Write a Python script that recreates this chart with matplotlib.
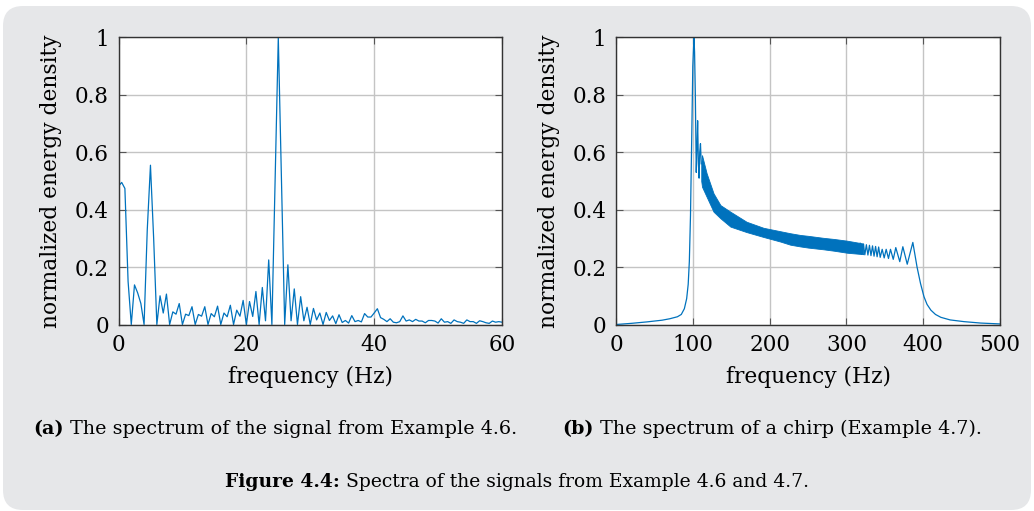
import numpy as np
import matplotlib
matplotlib.use("Agg")
import matplotlib.pyplot as plt
from matplotlib.patches import FancyBboxPatch

plt.rcParams['font.family'] = ['DejaVu Serif']

BLUE = "#0072BD"

# (a) spectrum of the signal from Example 4.6, 0.5 Hz bins from 0 to 60 Hz
freq_a = np.arange(0, 60.5, 0.5)
energy_a = [
    0.482, 0.495, 0.474, 0.15, 0.0, 0.138, 0.11, 0.073, 0.0, 0.33,
    0.555, 0.30, 0.0, 0.10, 0.04, 0.106, 0.0, 0.044, 0.036, 0.073,
    0.0, 0.036, 0.031, 0.062, 0.0, 0.035, 0.029, 0.062, 0.0, 0.038,
    0.027, 0.064, 0.0, 0.04, 0.027, 0.067, 0.0, 0.05, 0.029, 0.084,
    0.0, 0.08, 0.028, 0.115, 0.0, 0.129, 0.013, 0.225, 0.0, 0.5,
    1.0, 0.5, 0.0, 0.208, 0.013, 0.124, 0.0, 0.097, 0.013, 0.06,
    0.0, 0.056, 0.016, 0.04, 0.0, 0.042, 0.014, 0.03, 0.003, 0.034,
    0.007, 0.014, 0.005, 0.031, 0.01, 0.014, 0.009, 0.038, 0.026, 0.026,
    0.04, 0.055, 0.024, 0.018, 0.01, 0.02, 0.008, 0.006, 0.01, 0.03,
    0.012, 0.016, 0.01, 0.018, 0.012, 0.012, 0.006, 0.014, 0.014, 0.012,
    0.005, 0.02, 0.008, 0.01, 0.004, 0.016, 0.01, 0.008, 0.004, 0.016,
    0.01, 0.01, 0.004, 0.013, 0.01, 0.006, 0.004, 0.012, 0.008, 0.01,
    0.008,
]

# (b) chirp spectrum: rising edge and main peak
chirp_f_start = [0, 20, 40, 60, 70, 80, 85, 89, 92, 94, 95.5, 97, 98, 99, 100,
                 101.5, 102.3, 103.3, 104.5, 105.5, 106.3, 107.3, 108.2, 109, 110, 111]
chirp_v_start = [0, 0.004, 0.009, 0.015, 0.02, 0.027, 0.035, 0.055, 0.09, 0.14, 0.22,
                 0.38, 0.55, 0.72, 0.9, 1.0, 0.95, 0.8, 0.53, 0.62, 0.71, 0.56, 0.51,
                 0.6, 0.63, 0.56]

# dense ripple band (upper / lower envelope)
band_f = [111, 112, 118, 127, 136, 149, 170, 192, 214, 227, 240, 250, 270, 284, 301, 318, 322]
band_hi = [0.56, 0.59, 0.527, 0.457, 0.416, 0.393, 0.358, 0.337, 0.325, 0.318, 0.312,
           0.309, 0.302, 0.298, 0.292, 0.284, 0.282]
band_lo = [0.50, 0.48, 0.445, 0.393, 0.37, 0.341, 0.322, 0.305, 0.289, 0.278, 0.272,
           0.268, 0.262, 0.257, 0.25, 0.246, 0.245]

# resolved ripples and falling edge
chirp_f_end = [318, 320, 322, 324, 326, 328, 330, 332, 334, 336, 338, 340, 342, 344,
               346.6, 349.2, 351.8, 354.8, 357.4, 361, 364.3, 369.5, 373.5, 379.2, 386.5,
               392, 396.5, 401, 405, 410, 416, 423, 435, 453, 475, 500]
chirp_v_end = [0.283, 0.245, 0.28, 0.243, 0.278, 0.242, 0.276, 0.24, 0.274, 0.238, 0.272,
               0.236, 0.27, 0.234, 0.262, 0.232, 0.262, 0.23, 0.262, 0.227, 0.268, 0.219,
               0.271, 0.21, 0.286, 0.2, 0.143, 0.097, 0.07, 0.05, 0.035, 0.025, 0.016,
               0.01, 0.005, 0.002]

yticks = [0, 0.2, 0.4, 0.6, 0.8, 1]
ytick_labels = ["0", "0.2", "0.4", "0.6", "0.8", "1"]

fig = plt.figure(figsize=(10.34, 5.11), dpi=100)
fig.patch.set_facecolor("white")
bg = FancyBboxPatch((3, 1), 1028, 504, boxstyle="round,pad=0,rounding_size=20",
                    transform=None, facecolor="#e6e7e9", edgecolor="none", zorder=-10)
fig.patches.append(bg)

ax1 = fig.add_axes([118.5 / 1034, (511 - 324.5) / 511, 383.5 / 1034, 287 / 511])
ax2 = fig.add_axes([616 / 1034, (511 - 324.5) / 511, 384 / 1034, 287 / 511])


def style(ax, xticks):
    ax.set_facecolor("white")
    ax.set_xticks(xticks)
    ax.set_yticks(yticks)
    ax.set_yticklabels(ytick_labels)
    ax.set_ylim(0, 1)
    ax.grid(True, color="#c4c4c4", linewidth=1.0)
    ax.set_axisbelow(True)
    ax.tick_params(direction="in", length=5, width=0.8, color="#555555",
                   top=True, right=True, labelsize=15.5, pad=7)
    for sp in ax.spines.values():
        sp.set_color("#333333")
        sp.set_linewidth(1.0)
    ax.set_xlabel("frequency (Hz)", fontsize=15.7, labelpad=7)
    ax.set_ylabel("normalized energy density", fontsize=15.7, labelpad=9)


ax1.plot(freq_a, energy_a, color=BLUE, linewidth=0.9)
ax1.set_xlim(0, 60)
style(ax1, [0, 20, 40, 60])

ax2.plot(chirp_f_start, chirp_v_start, color=BLUE, linewidth=0.9)
ax2.fill_between(band_f, band_lo, band_hi, color=BLUE, linewidth=0.6, edgecolor=BLUE)
ax2.plot(chirp_f_end, chirp_v_end, color=BLUE, linewidth=0.9)
ax2.set_xlim(0, 500)
style(ax2, [0, 100, 200, 300, 400, 500])

# captions: bold lead-in followed by regular text, centred as one line
renderer = fig.canvas.get_renderer()


def caption(xc, yc, bold, rest, size):
    y = 1 - yc / 511
    t1 = fig.text(0, y, bold, fontsize=size, fontweight="bold", va="center", ha="left")
    t2 = fig.text(0, y, rest, fontsize=size, va="center", ha="left")
    w1 = t1.get_window_extent(renderer).width
    w2 = t2.get_window_extent(renderer).width
    x0 = xc - (w1 + w2) / 2
    t1.set_x(x0 / 1034)
    t2.set_x((x0 + w1) / 1034)


caption(275, 429, "(a)", " The spectrum of the signal from Example 4.6.", 13.8)
caption(772, 429, "(b)", " The spectrum of a chirp (Example 4.7).", 13.8)
caption(517, 482, "Figure 4.4:", " Spectra of the signals from Example 4.6 and 4.7.", 13.5)

fig.savefig("out.png", dpi=100)
